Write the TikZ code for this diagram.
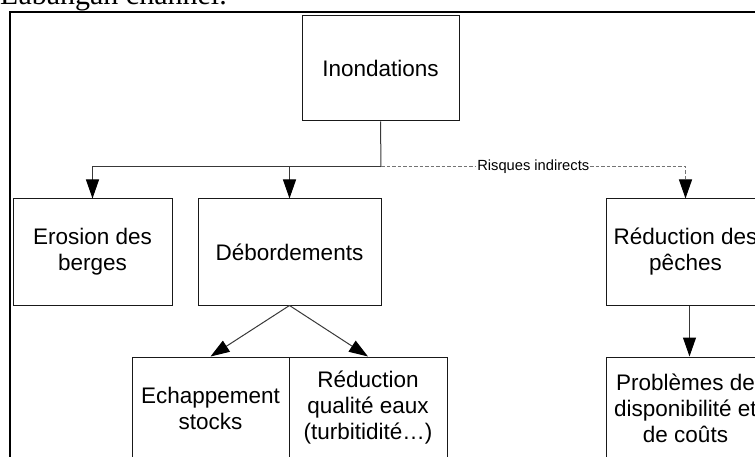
\documentclass[tikz,border=0pt]{standalone}
\usepackage{fontspec}
\setmainfont{Liberation Sans}
\newfontfamily\capserif{Liberation Serif}
\usetikzlibrary{arrows.meta}

\tikzset{
  bloc/.style={draw=black!90, line width=1pt, align=center, inner sep=0pt,
               font=\fontsize{22.5}{26}\selectfont},
  lien/.style={draw=black!78, line width=1pt},
  fleche/.style={lien, -{Triangle[length=19pt, width=13pt, color=black]}},
  indirect/.style={fleche, draw=black!55, dash pattern=on 3.5pt off 2pt}
}

\begin{document}
\begin{tikzpicture}[x=1pt, y=-1pt]
  \useasboundingbox (0,0) rectangle (755,457);
  \clip (0,0) rectangle (755,457);
  \node[anchor=base west, inner sep=0pt, font=\capserif\fontsize{30}{34}\selectfont]
    (legende) at (0,5) {Labangan channel.};
  \draw[line width=2.5pt] (10,480) -- (10,12) -- (780,12);

  \foreach \nm/\cx/\cy/\w/\h/\txt in {
    inond/380.5/68.5/157/105/{Inondations},
    erosion/92.5/252/159/106/{Erosion des\\berges},
    debord/289.5/252/183/106/{Débordements},
    peches/685.5/252/159/106/{Réduction des\\pêches},
    echap/210.5/408/157/102/{Echappement\\stocks},
    qualite/368/408/158/102/{Réduction\\qualité eaux\\(turbitidité…)},
    couts/685.5/408/159/102/{Problèmes de\\disponibilité et\\de coûts}} {
    \node[bloc, minimum width=\w pt, minimum height=\h pt] (\nm) at (\cx,\cy) {\txt};
  }

  \coordinate (bus) at (381,167);
  \draw[lien] (inond.south) -- (bus);
  \draw[fleche] (bus) -| (erosion.north);
  \draw[fleche] (bus) -| (debord.north);
  \draw[indirect] (bus) -| node[pos=0.25, fill=white, inner sep=1pt, text=black,
    font=\fontsize{14.7}{17}\selectfont] (risques) {Risques indirects} (peches.north);
  \draw[fleche] (debord.south) -- (echap.north);
  \draw[fleche] (debord.south) -- (qualite.north);
  \draw[fleche] ([xshift=4pt]peches.south) -- ([xshift=4pt]couts.north);
\end{tikzpicture}
\end{document}
